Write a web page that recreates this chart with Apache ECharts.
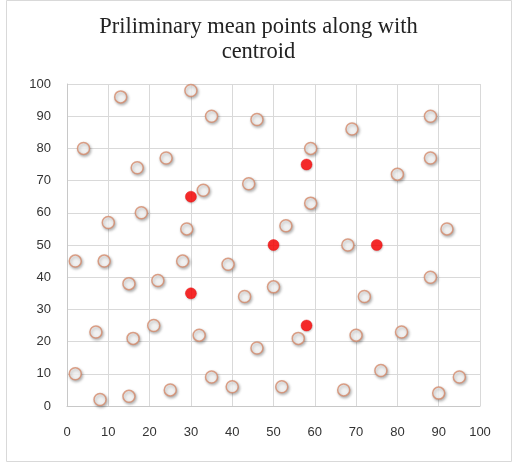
<!DOCTYPE html>
<html><head><meta charset="utf-8">
<script src="https://cdn.jsdelivr.net/npm/echarts@6/dist/echarts.min.js"></script>
<style>html,body{margin:0;padding:0;background:#fff}#c{width:517px;height:464px}</style>
</head><body><div id="c"></div>
<script>
const titleText = 'Priliminary mean points along with\ncentroid';
const xTicks = [0,10,20,30,40,50,60,70,80,90,100];
const yTicks = [0,10,20,30,40,50,60,70,80,90,100];
const meanPointsX = [13,30,35,46,4,24,17,44,33,18,10,29,88,69,59,88,80,59,53,92,68,2,9,28,39,15,22,43,7,16,21,32,46,2,8,15,25,35,40,88,50,72,56,70,81,76,52,67,90,95];
const meanPointsY = [96,98,90,89,80,77,74,69,67,60,57,55,90,86,80,77,72,63,56,55,50,45,45,45,44,38,39,34,23,21,25,22,18,10,2,3,5,9,6,40,37,34,21,22,23,11,6,5,4,9];
const centroidX = [30,58,50,75,30,58];
const centroidY = [65,75,50,50,35,25];

const chart = echarts.init(document.getElementById('c'), null, {renderer:'canvas'});
const pairs = (xs, ys) => xs.map((x,i)=>[x, ys[i]]);
chart.setOption({
  animation:false,
  backgroundColor:'#fff',
  title:{text:titleText,left:'center',top:10,textStyle:{fontFamily:'Liberation Serif',fontSize:22.5,fontWeight:'normal',color:'#222',lineHeight:25}},
  graphic:[{type:'rect',shape:{x:6.5,y:0.5,width:505,height:461},style:{fill:'none',stroke:'#d9d9d9',lineWidth:1},silent:true}],
  grid:{left:67,right:37,top:84,bottom:58},
  xAxis:{type:'value',min:0,max:100,interval:10,
    axisLine:{show:true,lineStyle:{color:'#c8c8c8'}},axisTick:{show:false},
    splitLine:{show:true,lineStyle:{color:'#d9d9d9'}},
    axisLabel:{margin:20,fontFamily:'Liberation Sans',fontSize:13,color:'#333',formatter:v=>xTicks.includes(v)?String(v):''}},
  yAxis:{type:'value',min:0,max:100,interval:10,
    axisLine:{show:true,lineStyle:{color:'#c8c8c8'}},axisTick:{show:false},
    splitLine:{show:true,lineStyle:{color:'#d9d9d9'}},
    axisLabel:{margin:16,fontFamily:'Liberation Sans',fontSize:13,color:'#333',formatter:v=>yTicks.includes(v)?String(v):''}},
  series:[
    {type:'scatter',data:pairs(meanPointsX,meanPointsY),symbol:'circle',symbolSize:12,
     itemStyle:{color:'#fff',borderColor:'#d4896a',borderWidth:1.5,shadowColor:'rgba(0,0,0,0.35)',shadowBlur:3,shadowOffsetX:1,shadowOffsetY:1.5}},
    {type:'scatter',data:pairs(centroidX,centroidY),symbol:'circle',symbolSize:11,z:3,
     itemStyle:{color:'#ff0000',borderColor:'#ee0000',borderWidth:0.5,shadowColor:'rgba(0,0,0,0.25)',shadowBlur:2,shadowOffsetX:0.5,shadowOffsetY:1}}
  ]
});
</script></body></html>
